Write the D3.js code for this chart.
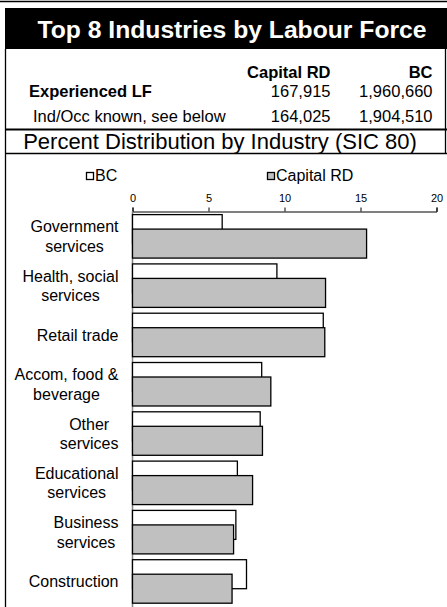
<!DOCTYPE html>
<html>
<head>
<meta charset="utf-8">
<script src="https://cdn.jsdelivr.net/npm/d3@7/dist/d3.min.js"></script>
<style>
  html, body { margin: 0; padding: 0; background: #fff; }
  svg { display: block; font-family: "Liberation Sans", Arial, sans-serif; }
</style>
</head>
<body>
<script>
const title = "Top 8 Industries by Labour Force";
const subtitle = "Percent Distribution by Industry (SIC 80)";
const regions = ["Capital RD", "BC"];
const rowLabels = ["Experienced LF", "Ind/Occ known, see below"];
const capitalCounts = ["167,915", "164,025"];
const bcCounts = ["1,960,660", "1,904,510"];

const categories = [
  ["Government", "services"],
  ["Health, social", "services"],
  ["Retail trade"],
  ["Accom, food &", "beverage"],
  ["Other", "services"],
  ["Educational", "services"],
  ["Business", "services"],
  ["Construction"]
];
const bcValues =      [5.9, 9.5, 12.55, 8.5, 8.4, 6.9, 6.8, 7.5];
const capitalValues = [15.4, 12.7, 12.65, 9.1, 8.55, 7.9, 6.65, 6.55];
const tickValues = [0, 5, 10, 15, 20];
const seriesNames = ["BC", "Capital RD"];
const seriesColors = ["#ffffff", "#c0c0c0"];

const W = 447, H = 607;
const svg = d3.select("body").append("svg").attr("width", W).attr("height", H);

// top rule
svg.append("line").attr("x1", 0).attr("x2", W).attr("y1", 1.5).attr("y2", 1.5)
  .attr("stroke", "#000").attr("stroke-width", 1.5);

// title box
svg.append("rect").attr("x", 5).attr("y", 8).attr("width", W - 5).attr("height", 41).attr("fill", "#000");
svg.append("text").attr("x", 232).attr("y", 37.5).attr("text-anchor", "middle")
  .attr("fill", "#fff").attr("font-weight", "bold").attr("font-size", 24.7).text(title);

// frame lines
svg.append("line").attr("x1", 5.5).attr("x2", 5.5).attr("y1", 49).attr("y2", H)
  .attr("stroke", "#000").attr("stroke-width", 1.3);
svg.append("line").attr("x1", 445.5).attr("x2", 445.5).attr("y1", 49).attr("y2", 153)
  .attr("stroke", "#000").attr("stroke-width", 1.3);
svg.append("line").attr("x1", 5).attr("x2", W).attr("y1", 129.5).attr("y2", 129.5)
  .attr("stroke", "#000").attr("stroke-width", 2);
svg.append("line").attr("x1", 5).attr("x2", W).attr("y1", 153.5).attr("y2", 153.5)
  .attr("stroke", "#000").attr("stroke-width", 1.3);

// header table
const colEnds = [330.5, 432.5];
const fs = 16.5;
regions.forEach((r, i) => {
  svg.append("text").attr("x", colEnds[i]).attr("y", 77.5).attr("text-anchor", "end")
    .attr("font-weight", "bold").attr("font-size", fs).text(r);
});
const rowY = [96.5, 122];
const rowX = [29, 33];
rowLabels.forEach((lab, i) => {
  svg.append("text").attr("x", rowX[i]).attr("y", rowY[i])
    .attr("font-weight", i === 0 ? "bold" : "normal").attr("font-size", fs).text(lab);
  svg.append("text").attr("x", colEnds[0]).attr("y", rowY[i]).attr("text-anchor", "end")
    .attr("font-size", fs).text(capitalCounts[i]);
  svg.append("text").attr("x", colEnds[1]).attr("y", rowY[i]).attr("text-anchor", "end")
    .attr("font-size", fs).text(bcCounts[i]);
});

svg.append("text").attr("x", 220).attr("y", 148.5).attr("text-anchor", "middle")
  .attr("font-size", 22).text(subtitle);

// legend
const legendX = [86, 267];
seriesNames.forEach((s, i) => {
  svg.append("rect").attr("x", legendX[i] + 0.5).attr("y", 172.5).attr("width", 7).attr("height", 7)
    .attr("fill", seriesColors[i]).attr("stroke", "#000").attr("stroke-width", 1.3);
  svg.append("text").attr("x", legendX[i] + 9).attr("y", 181).attr("font-size", 16).text(s);
});

// scales
const x = d3.scaleLinear().domain([0, 20]).range([132.5, 436.5]);
const y = d3.scaleBand().domain(d3.range(categories.length)).range([211.7, 606.1]).padding(0);
const band = y.bandwidth();
const barH = band * 0.588;
const groupOff = (band - 1.5 * barH) / 2;

// axis
const axis = d3.axisTop(x).tickValues(tickValues).tickSize(4).tickPadding(6).tickFormat(d3.format("d"));
const ag = svg.append("g").attr("transform", "translate(0,211.5)").call(axis);
ag.select(".domain").attr("stroke", "#000").attr("stroke-width", 1);
ag.selectAll(".tick line").attr("stroke", "#000");
ag.selectAll(".tick text").attr("font-size", 11).attr("font-family", "'Liberation Sans', Arial, sans-serif").attr("fill", "#000");

// vertical axis line
svg.append("line").attr("x1", x(0)).attr("x2", x(0)).attr("y1", 211.5).attr("y2", H)
  .attr("stroke", "#808080").attr("stroke-width", 1.5);

// bars
const gBars = svg.append("g");
categories.forEach((c, i) => {
  const y0 = y(i) + groupOff;
  gBars.append("rect").attr("x", x(0)).attr("y", y0).attr("width", x(bcValues[i]) - x(0)).attr("height", barH)
    .attr("fill", seriesColors[0]).attr("stroke", "#000").attr("stroke-width", 1.3);
  gBars.append("rect").attr("x", x(0)).attr("y", y0 + barH / 2).attr("width", x(capitalValues[i]) - x(0)).attr("height", barH)
    .attr("fill", seriesColors[1]).attr("stroke", "#000").attr("stroke-width", 1.3);
});

// category labels
const labelRight = 118.5;
const lineH = 19.5;
categories.forEach((lines, i) => {
  const cy = y(i) + band / 2;
  const g = svg.append("g");
  const texts = lines.map((ln, k) => g.append("text").attr("font-size", 16).attr("text-anchor", "middle")
    .attr("y", cy + 5.8 + (k - (lines.length - 1) / 2) * lineH).text(ln));
  const maxW = d3.max(texts, t => t.node().getComputedTextLength());
  texts.forEach(t => t.attr("x", labelRight - maxW / 2));
});
</script>
</body>
</html>
